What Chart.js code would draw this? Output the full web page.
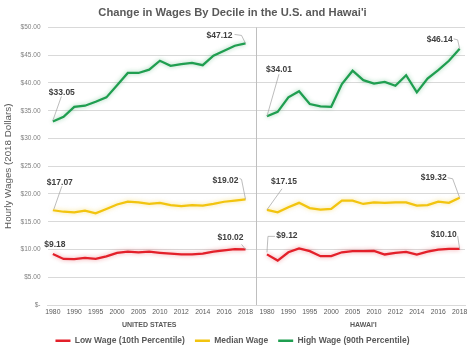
<!DOCTYPE html>
<html><head><meta charset="utf-8">
<script src="https://cdn.jsdelivr.net/npm/chart.js@4.4.1/dist/chart.umd.min.js"></script>
<style>html,body{margin:0;padding:0;background:#fff;}#wrap{width:474px;height:355px;}</style>
</head><body><div id="wrap"><canvas id="c" width="474" height="355"></canvas></div>
<script>
// ---- data ----
const years = ['1980','1985','1990','1992','1995','1997','2000','2002','2005','2007','2010','2011','2012','2013','2014','2015','2016','2017','2018'];
const groupNames = ['UNITED STATES', "HAWAI'I"];
const seriesNames = ['Low Wage (10th Percentile)', 'Median Wage', 'High Wage (90th Percentile)'];
const usLow  = [9.18, 8.30, 8.25, 8.50, 8.30, 8.75, 9.40, 9.60, 9.50, 9.60, 9.40, 9.24, 9.10, 9.10, 9.24, 9.60, 9.84, 10.05, 10.02];
const usMed  = [17.07, 16.80, 16.70, 17.00, 16.50, 17.30, 18.10, 18.60, 18.50, 18.20, 18.40, 18.00, 17.80, 18.00, 17.90, 18.20, 18.60, 18.80, 19.02];
const usHigh = [33.05, 33.90, 35.70, 35.90, 36.60, 37.40, 39.60, 41.80, 41.80, 42.40, 44.00, 43.10, 43.40, 43.60, 43.20, 44.90, 45.80, 46.70, 47.12];
const hiLow  = [9.12, 8.00, 9.50, 10.20, 9.70, 8.80, 8.80, 9.50, 9.70, 9.70, 9.75, 9.10, 9.40, 9.55, 9.10, 9.60, 9.96, 10.10, 10.10];
const hiMed  = [17.15, 16.70, 17.60, 18.40, 17.45, 17.20, 17.30, 18.80, 18.80, 18.20, 18.50, 18.40, 18.50, 18.50, 17.90, 18.00, 18.60, 18.40, 19.32];
const hiHigh = [34.01, 34.80, 37.40, 38.50, 36.20, 35.80, 35.70, 39.80, 42.20, 40.50, 39.90, 40.20, 39.50, 41.40, 38.30, 40.80, 42.30, 44.00, 46.14];

// ---- build ----
const categories = years.concat([''], years);
const join = (a, b) => a.concat([null], b);
const colors = ['#e3202a', '#f2c40f', '#1f9e50'];
const glow = ['rgba(227,32,42,0.45)', 'rgba(242,196,15,0.5)', 'rgba(31,158,80,0.45)'];
const seriesData = [join(usLow, hiLow), join(usMed, hiMed), join(usHigh, hiHigh)];
const N = years.length;

const FONT = '"Liberation Sans", Arial, sans-serif';

const glowPlugin = {
  id: 'glow',
  beforeDatasetDraw(chart, args) {
    const ctx = chart.ctx; ctx.save();
    ctx.shadowColor = glow[args.index]; ctx.shadowBlur = 4;
  },
  afterDatasetDraw(chart) { chart.ctx.restore(); }
};

const sepPlugin = {
  id: 'sep',
  beforeDatasetsDraw(chart) {
    const ctx = chart.ctx, x = chart.scales.x, a = chart.chartArea;
    const px = Math.round(x.getPixelForValue(N)) + 0.5;
    ctx.save(); ctx.strokeStyle = '#bfbfbf'; ctx.lineWidth = 1;
    ctx.beginPath(); ctx.moveTo(px, a.top); ctx.lineTo(px, a.bottom); ctx.stroke();
    ctx.restore();
  },
  afterDraw(chart) {
    const ctx = chart.ctx, x = chart.scales.x;
    ctx.save(); ctx.fillStyle = '#595959'; ctx.font = 'bold 7px ' + FONT;
    ctx.textAlign = 'center'; ctx.textBaseline = 'middle';
    groupNames.forEach((g, gi) => {
      const s = gi * (N + 1);
      const cx = (x.getPixelForValue(s) + x.getPixelForValue(s + N - 1)) / 2;
      ctx.fillText(g, cx, 325);
    });
    ctx.restore();
  }
};

// label placement: [dataset, index, dx, dy, leader offsets]
const labelSpecs = [
  [2, 0, 9, -29, [[8.5,-25],[0,-1]]],
  [2, 18, -26, -8, [[-11,-9],[-4,-8],[0,0]]],
  [1, 0, 7, -28, [[9,-24],[1,-1]]],
  [1, 18, -20, -19, [[-6,-21],[-4,-20],[0,0]]],
  [0, 0, 2, -9, null],
  [0, 18, -15, -12, [[-4,-5],[0,0]]],
  [2, 20, 12, -47, [[12,-42],[0,0]]],
  [2, 38, -20, -9, [[-6,-10],[-2,-9],[0,0]]],
  [1, 20, 17, -28, [[15,-21],[0,0]]],
  [1, 38, -26, -20, [[-12,-20],[-7,-19],[0,0]]],
  [0, 20, 20, -19, [[8,-18],[1,-18],[0,-2]]],
  [0, 38, -16, -14, [[-2,-13],[0,0]]]
];
const labelPlugin = {
  id: 'vlabels',
  afterDatasetsDraw(chart) {
    const ctx = chart.ctx;
    ctx.save();
    labelSpecs.forEach(([d, i, dx, dy, lead]) => {
      const el = chart.getDatasetMeta(d).data[i];
      const v = chart.data.datasets[d].data[i];
      if (lead) {
        ctx.strokeStyle = '#a6a6a6'; ctx.lineWidth = 0.75;
        ctx.beginPath();
        lead.forEach(([lx, ly], k) => { k ? ctx.lineTo(el.x + lx, el.y + ly) : ctx.moveTo(el.x + lx, el.y + ly); });
        ctx.stroke();
      }
      ctx.fillStyle = '#404040'; ctx.font = 'bold 8.5px ' + FONT;
      ctx.textAlign = 'center'; ctx.textBaseline = 'middle';
      ctx.fillText('$' + v.toFixed(2), el.x + dx, el.y + dy);
    });
    ctx.restore();
  }
};

new Chart(document.getElementById('c'), {
  type: 'line',
  data: {
    labels: categories,
    datasets: seriesNames.map((n, k) => ({
      label: n, data: seriesData[k], borderColor: colors[k], backgroundColor: colors[k],
      borderWidth: 2.25, pointRadius: 0, pointHoverRadius: 0, tension: 0, spanGaps: false
    }))
  },
  options: {
    responsive: false, animation: false,
    layout: { padding: { left: 0, right: 9, top: 0, bottom: 0 } },
    plugins: {
      title: { display: true, text: "Change in Wages By Decile in the U.S. and Hawai'i", color: '#595959',
        font: { family: FONT, size: 11.2, weight: 'bold' }, padding: { top: 6, bottom: 8 } },
      legend: { position: 'bottom',
        labels: { boxWidth: 15, boxHeight: 2.5, padding: 10, color: '#595959',
          font: { family: FONT, size: 8.5, weight: 'bold' },
          generateLabels(chart) {
            return Chart.defaults.plugins.legend.labels.generateLabels(chart).map(l => Object.assign(l, { lineWidth: 0 }));
          } } },
      tooltip: { enabled: false }
    },
    scales: {
      x: { offset: true, grid: { display: false, drawTicks: false }, border: { display: true, color: '#d9d9d9' },
        ticks: { autoSkip: false, maxRotation: 0, minRotation: 0, padding: 3, color: '#595959',
          font: { family: FONT, size: 6.8 },
          callback: function(v, i) { return i % 2 === 0 ? this.getLabelForValue(v) : ''; } },
        afterFit(s) { s.height = 21.5; } },
      y: { min: 0, max: 50, grid: { color: '#d9d9d9', drawTicks: false }, border: { display: false },
        ticks: { stepSize: 5, padding: 7, color: '#7f7f7f', font: { family: FONT, size: 6.5 },
          callback: v => v === 0 ? '$-' : '$' + v.toFixed(2) },
        title: { display: true, text: 'Hourly Wages (2018 Dollars)', color: '#595959',
          font: { family: FONT, size: 9.8 }, padding: { top: 2, bottom: 0 } },
        afterFit(s) { s.width = 47.5; } }
    }
  },
  plugins: [glowPlugin, sepPlugin, labelPlugin]
});
</script></body></html>
